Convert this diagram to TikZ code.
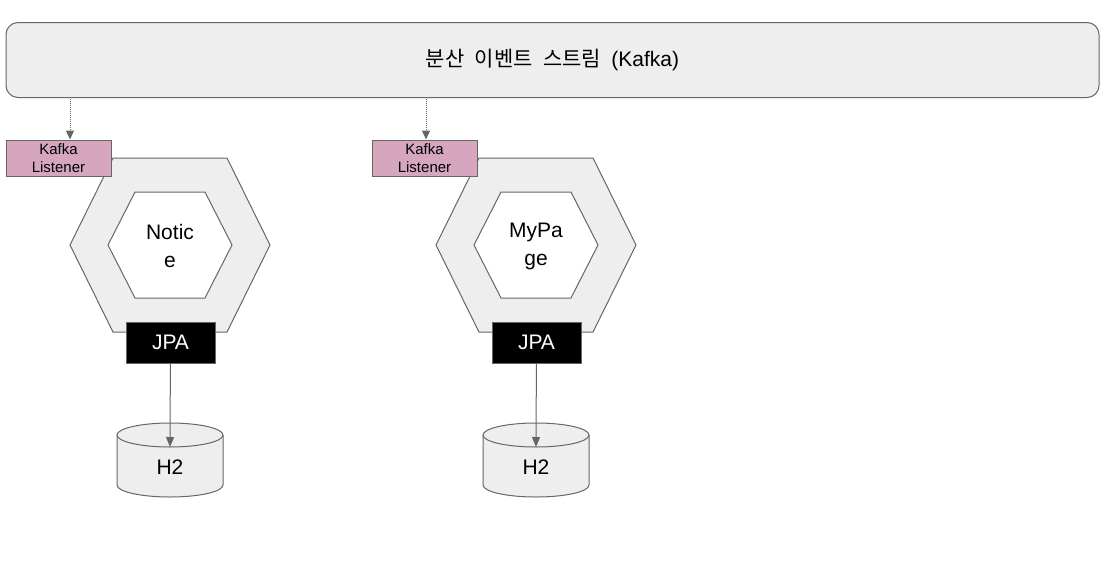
\documentclass[tikz,border=0pt]{standalone}
\usepackage{fontspec}
\setmainfont{Liberation Sans}
\newfontfamily\krfont[WordSpace=2.2]{Noto Sans CJK KR}
\usetikzlibrary{arrows.meta}

\definecolor{boxgray}{HTML}{EEEEEE}
\definecolor{linegray}{HTML}{666666}
\definecolor{listenerpink}{HTML}{D5A6BD}

\tikzset{
  stream/.style={draw=linegray, fill=boxgray, rounded corners=12pt, minimum width=1093pt, minimum height=75pt, inner sep=0pt, font=\fontsize{21}{25}\selectfont},
  listener/.style={draw=linegray, fill=listenerpink, minimum width=105pt, minimum height=36pt, inner sep=0pt, align=center, font=\fontsize{15}{18}\selectfont},
  jpa/.style={draw=linegray, fill=black, text=white, minimum width=89pt, minimum height=41pt, inner sep=0pt, font=\fontsize{21}{25}\selectfont},
  svc/.style={align=center, inner sep=0pt, font=\fontsize{21}{28}\selectfont},
  feed/.style={densely dotted, linegray, -{Triangle[width=8pt,length=9pt]}},
  store/.style={linegray, -{Triangle[width=8pt,length=10pt]}},
}

\begin{document}
\begin{tikzpicture}[x=1pt, y=-1pt, line width=1pt]
    \useasboundingbox (0,0) rectangle (1115,573);

    \node[stream] (kafka) at (552.5,60) {{\krfont 분산 이벤트 스트림 }(Kafka)};

    % Notice service
    \draw[linegray, fill=boxgray] (113,158) -- (227,158) -- (270,245) -- (227,332) -- (113,332) -- (70,245) -- cycle;
    \draw[linegray, fill=white] (135,192) -- (205,192) -- (232,245) -- (205,298) -- (135,298) -- (108,245) -- cycle;
    \node[svc] (svcA) at (170,246) {Notic\\e};
    \node[listener] (lsnA) at (58.5,158) {Kafka\\Listener};
    \node[jpa] (jpaA) at (170.5,342.5) {JPA};
    \fill[boxgray] (117,435) -- (117,485) arc[start angle=180, end angle=0, x radius=53, y radius=12] -- (223,435) -- cycle;
    \draw[linegray] (117,435) -- (117,485) arc[start angle=180, end angle=0, x radius=53, y radius=12] -- (223,435);
    \draw[linegray, fill=boxgray] (170,435) ellipse [x radius=53, y radius=12];
    \node[svc] (dbA) at (170,467) {H2};
    \coordinate (tapA) at (70,97);
    \coordinate (dbtopA) at (170,447);
    \draw[feed] (tapA) -- (tapA |- lsnA.north);
    \draw[store] (jpaA) -- (dbtopA);

    % MyPage service
    \draw[linegray, fill=boxgray] (479,158) -- (593,158) -- (636,245) -- (593,332) -- (479,332) -- (436,245) -- cycle;
    \draw[linegray, fill=white] (501,192) -- (571,192) -- (598,245) -- (571,298) -- (501,298) -- (474,245) -- cycle;
    \node[svc] (svcB) at (536,246) {MyPa\\ge};
    \node[listener] (lsnB) at (424.5,158) {Kafka\\Listener};
    \node[jpa] (jpaB) at (536.5,342.5) {JPA};
    \fill[boxgray] (483,435) -- (483,485) arc[start angle=180, end angle=0, x radius=53, y radius=12] -- (589,435) -- cycle;
    \draw[linegray] (483,435) -- (483,485) arc[start angle=180, end angle=0, x radius=53, y radius=12] -- (589,435);
    \draw[linegray, fill=boxgray] (536,435) ellipse [x radius=53, y radius=12];
    \node[svc] (dbB) at (536,467) {H2};
    \coordinate (tapB) at (426,97);
    \coordinate (dbtopB) at (536,447);
    \draw[feed] (tapB) -- (tapB |- lsnB.north);
    \draw[store] (jpaB) -- (dbtopB);
\end{tikzpicture}
\end{document}
